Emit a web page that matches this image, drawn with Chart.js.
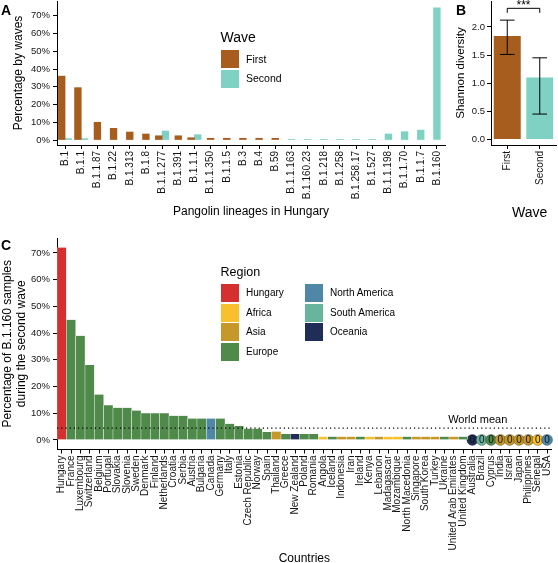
<!DOCTYPE html>
<html>
<head>
<meta charset="utf-8">
<script src="https://cdn.jsdelivr.net/npm/chart.js@4.4.1/dist/chart.umd.min.js"></script>
<style>
  body { margin: 0; background: #fff; }
  #fig { position: relative; width: 558px; height: 563px; overflow: hidden; font-family: 'Liberation Sans', Arial, Helvetica, sans-serif; color: #000; }
  canvas { position: absolute; }
  .lbl { position: absolute; white-space: nowrap; }
  .tag { position: absolute; font-weight: bold; font-size: 14px; line-height: 14px; }
  .sw { position: absolute; width: 18px; height: 18px; }
</style>
</head>
<body>
<div id="fig">
  <canvas id="chartA" width="450" height="225" style="left:0;top:0"></canvas>
  <canvas id="chartB" width="108" height="225" style="left:450px;top:0"></canvas>
  <canvas id="chartC" width="558" height="345" style="left:0;top:225px"></canvas>
  <div class="tag" style="left:1px;top:3px">A</div>
  <div class="tag" style="left:456px;top:3px">B</div>
  <div class="tag" style="left:1px;top:238px">C</div>
  <div class="lbl" style="left:512px;top:204px;font-size:14px;line-height:16px">Wave</div>
  <div id="legendA"></div>
  <div id="legendC"></div>
</div>
<script>
// panel A - share of each lineage within a wave (%)
const lineages = ['B.1', 'B.1.1', 'B.1.1.87', 'B.1.22', 'B.1.313', 'B.1.8', 'B.1.1.277', 'B.1.391',
  'B.1.1.1', 'B.1.1.350', 'B.1.1.5', 'B.3', 'B.4', 'B.59', 'B.1.1.163', 'B.1.160.23', 'B.1.218',
  'B.1.258', 'B.1.258.17', 'B.1.527', 'B.1.1.198', 'B.1.1.70', 'B.1.1.7', 'B.1.160']
const firstWave = [36, 29.5, 10, 6.6, 4.5, 3.4, 2.4, 2.4, 1.3, 1.0, 1.0, 1.0, 1.0, 1.0,
  null, null, null, null, null, null, null, null, null, null]
const secondWave = [0.8, 0.8, null, null, null, null, 5.1, null, 3.0, null, null, null, null, null,
  0.4, 0.4, 0.4, 0.4, 0.4, 0.4, 3.4, 4.7, 5.6, 74.5]
const pctTicks = [0, 10, 20, 30, 40, 50, 60, 70]

// panel B - Shannon diversity per wave
const waves = ['First', 'Second']
const shannon = [1.84, 1.10]
const shannonLow = [1.51, 0.45]
const shannonHigh = [2.12, 1.45]
const shannonTicks = [0, 0.5, 1, 1.5, 2]
const bracket = [2.33, 2.25] // significance bracket: top, ends

// panel C - B.1.160 share of second wave samples per country (%)
const countries = ['Hungary', 'France', 'Luxembourg', 'Switzerland', 'Belgium', 'Portugal', 'Slovakia',
  'Slovenia', 'Sweden', 'Denmark', 'Finland', 'Netherlands', 'Croatia', 'Serbia', 'Austria', 'Bulgaria',
  'Canada', 'Germany', 'Italy', 'Estonia', 'Czech Republic', 'Norway', 'Spain', 'Thailand', 'Greece',
  'New Zealand', 'Poland', 'Romania', 'Angola', 'Iceland', 'Indonesia', 'Iran', 'Ireland', 'Kenya',
  'Lebanon', 'Madagascar', 'Mozambique', 'North Macedonia', 'Singapore', 'South Korea', 'Turkey',
  'Ukraine', 'United Arab Emirates', 'United Kingdom', 'Australia', 'Brazil', 'Cyprus', 'India',
  'Israel', 'Japan', 'Philippines', 'Senegal', 'USA']
const regionOf = ['Hungary', 'Europe', 'Europe', 'Europe', 'Europe', 'Europe', 'Europe',
  'Europe', 'Europe', 'Europe', 'Europe', 'Europe', 'Europe', 'Europe', 'Europe', 'Europe',
  'North America', 'Europe', 'Europe', 'Europe', 'Europe', 'Europe', 'Europe', 'Asia', 'Europe',
  'Oceania', 'Europe', 'Europe', 'Africa', 'Europe', 'Asia', 'Asia', 'Europe', 'Africa',
  'Asia', 'Africa', 'Africa', 'Europe', 'Asia', 'Asia', 'Asia',
  'Europe', 'Asia', 'Europe', 'Oceania', 'South America', 'Europe', 'Asia',
  'Asia', 'Asia', 'Asia', 'Africa', 'North America']
const b1160Share = [72, 45, 39, 28, 17, 13, 12, 12, 11, 10, 10, 10, 9, 9, 8, 8,
  8, 8, 6, 5.2, 4.2, 4.2, 3, 3.1, 2.2, 2.2, 2.2, 2.2, 1.2, 1.2, 1.2, 1.2, 1.2, 1.2,
  1.2, 1.2, 1.2, 1.2, 1.2, 1.2, 1.2, 1.2, 1.2, 1.2, 0, 0, 0, 0, 0, 0, 0, 0, 0]
const worldMean = 4.4

const waveColors = ['#a65d1d', '#7fd1c3']
const regions = ['Hungary', 'Africa', 'Asia', 'Europe', 'North America', 'South America', 'Oceania']
const regionColors = {
  'Hungary': '#d3302f',
  'Africa': '#f9c02e',
  'Asia': '#c6982a',
  'Europe': '#4f8a4a',
  'North America': '#4f87a7',
  'South America': '#67b59d',
  'Oceania': '#1f2d57'
}

const font = "'Liberation Sans', Arial, Helvetica, sans-serif"
Chart.defaults.font.family = font
Chart.defaults.color = '#151515'
Chart.defaults.animation = false
Chart.defaults.responsive = false
Chart.defaults.devicePixelRatio = 1
Chart.defaults.plugins.legend.display = false
Chart.defaults.plugins.tooltip.enabled = false

function axisStyle () {
  return {
    border: { display: true, color: '#000', width: 1 },
    grid: { display: true, drawOnChartArea: false, drawTicks: true, tickLength: 4, color: '#000', offset: false }
  }
}

function xTicks (size) {
  return { font: { size: size }, minRotation: 90, maxRotation: 90, autoSkip: false, padding: 2 }
}

// fixed axis size, and no extra room for labels at the ends
function fixSize (key, val) {
  return s => {
    s[key] = val
    s.paddingTop = 0
    s.paddingBottom = 0
    s.paddingLeft = 0
    s.paddingRight = 0
  }
}

// A
new Chart(document.getElementById('chartA'), {
  type: 'bar',
  data: {
    labels: lineages,
    datasets: [
      { label: 'First', data: firstWave, backgroundColor: waveColors[0] },
      { label: 'Second', data: secondWave, backgroundColor: waveColors[1] }
    ]
  },
  options: {
    layout: { padding: { top: 1, right: 5, left: 0, bottom: 0 } },
    datasets: { bar: { barThickness: 6.7, skipNull: true } },
    scales: {
      x: Object.assign(axisStyle(), {
        ticks: xTicks(10),
        title: { display: true, text: 'Pangolin lineages in Hungary', color: '#000', font: { size: 12 }, padding: { top: 0, bottom: 5.8 } },
        afterFit: fixSize('height', 80)
      }),
      y: Object.assign(axisStyle(), {
        min: -2.8,
        max: 78.3,
        ticks: { font: { size: 9.5 }, padding: 3, callback: v => v + '%' },
        afterBuildTicks: s => { s.ticks = pctTicks.map(v => ({ value: v })) },
        title: { display: true, text: 'Percentage by waves', color: '#000', font: { size: 12 }, padding: { top: 11.3, bottom: 0 } },
        afterFit: fixSize('width', 57)
      })
    }
  }
})

// B - error bars and significance bracket
const errorBars = {
  id: 'errorBars',
  afterDatasetsDraw (chart) {
    const { ctx, scales: { x, y } } = chart
    ctx.save()
    ctx.strokeStyle = '#000'
    ctx.lineWidth = 1
    waves.forEach((w, i) => {
      const px = x.getPixelForValue(i)
      const lo = y.getPixelForValue(shannonLow[i])
      const hi = y.getPixelForValue(shannonHigh[i])
      ctx.beginPath()
      ctx.moveTo(px, lo); ctx.lineTo(px, hi)
      ctx.moveTo(px - 7.3, lo); ctx.lineTo(px + 7.3, lo)
      ctx.moveTo(px - 7.3, hi); ctx.lineTo(px + 7.3, hi)
      ctx.stroke()
    })
    const x0 = x.getPixelForValue(0)
    const x1 = x.getPixelForValue(1)
    const yTop = y.getPixelForValue(bracket[0])
    const yEnd = y.getPixelForValue(bracket[1])
    ctx.beginPath()
    ctx.moveTo(x0, yEnd); ctx.lineTo(x0, yTop); ctx.lineTo(x1, yTop); ctx.lineTo(x1, yEnd)
    ctx.stroke()
    ctx.fillStyle = '#000'
    ctx.font = '12px ' + font
    ctx.textAlign = 'center'
    ctx.textBaseline = 'alphabetic'
    ctx.fillText('***', (x0 + x1) / 2, yTop + 1)
    ctx.restore()
  }
}

new Chart(document.getElementById('chartB'), {
  type: 'bar',
  data: {
    labels: waves,
    datasets: [{ data: shannon, backgroundColor: waveColors, categoryPercentage: 1, barPercentage: 0.83 }]
  },
  options: {
    layout: { padding: { top: 1, right: 2, left: 0, bottom: 0 } },
    scales: {
      x: Object.assign(axisStyle(), {
        ticks: xTicks(10),
        afterFit: fixSize('height', 80)
      }),
      y: Object.assign(axisStyle(), {
        min: -0.1,
        max: 2.46,
        ticks: { font: { size: 9.5 }, padding: 2, callback: v => v.toFixed(1) },
        afterBuildTicks: s => { s.ticks = shannonTicks.map(v => ({ value: v })) },
        title: { display: true, text: 'Shannon diversity', color: '#000', font: { size: 11.5 }, padding: { top: 4.1, bottom: 0 } },
        afterFit: fixSize('width', 41)
      })
    }
  },
  plugins: [errorBars]
})

// C - world mean line and "0" labels on the empty countries
const worldMeanLine = {
  id: 'worldMeanLine',
  afterDatasetsDraw (chart) {
    const { ctx, chartArea: a, scales: { y } } = chart
    const py = y.getPixelForValue(worldMean)
    ctx.save()
    ctx.strokeStyle = '#000'
    ctx.lineWidth = 1.2
    ctx.setLineDash([1.2, 3])
    ctx.beginPath()
    ctx.moveTo(a.left, py); ctx.lineTo(a.right, py)
    ctx.stroke()
    ctx.setLineDash([])
    ctx.fillStyle = '#000'
    ctx.textAlign = 'center'
    ctx.textBaseline = 'middle'
    ctx.font = '11px ' + font
    ctx.fillText('World mean', a.right - 74, py - 8.5)
    ctx.font = '10px ' + font
    ctx.fillStyle = '#111'
    chart.getDatasetMeta(1).data.forEach((pt, i) => {
      if (b1160Share[i] !== 0) return
      ctx.fillText('0', pt.x, pt.y + 0.5)
    })
    ctx.restore()
  }
}

const countryColors = regionOf.map(r => regionColors[r])

new Chart(document.getElementById('chartC'), {
  type: 'bar',
  data: {
    labels: countries,
    datasets: [{
      data: b1160Share.map(v => v > 0 ? v : null),
      backgroundColor: countryColors,
      borderColor: '#fff',
      borderWidth: { left: 0.5, right: 0.5, top: 0, bottom: 0 },
      categoryPercentage: 1,
      barPercentage: 1
    }, {
      type: 'line',
      showLine: false,
      clip: false,
      data: b1160Share.map(v => v === 0 ? 0 : null),
      pointRadius: 5.5,
      pointBackgroundColor: countryColors,
      pointBorderColor: 'rgba(0,0,0,0.35)',
      pointBorderWidth: 0.8
    }]
  },
  options: {
    layout: { padding: { top: 13, right: 1, left: 0, bottom: 0 } },
    scales: {
      x: Object.assign(axisStyle(), {
        ticks: xTicks(10),
        title: { display: true, text: 'Countries', color: '#000', font: { size: 12 }, padding: { top: 0, bottom: 3.8 } },
        afterFit: fixSize('height', 120.5)
      }),
      y: Object.assign(axisStyle(), {
        min: -3.6,
        max: 75.6,
        ticks: { font: { size: 9.5 }, padding: 3, callback: v => v + '%' },
        afterBuildTicks: s => { s.ticks = pctTicks.map(v => ({ value: v })) },
        title: {
          display: true,
          text: ['Percentage of B.1.160 samples', 'during the second wave'],
          color: '#000',
          font: { size: 12, lineHeight: 1.15 },
          padding: { top: 0.6, bottom: 0 }
        },
        afterFit: fixSize('width', 57)
      })
    }
  },
  plugins: [worldMeanLine]
})

// legends (html)
function addLabel (parent, text, left, centerY, size) {
  const d = document.createElement('div')
  d.className = 'lbl'
  d.textContent = text
  d.style.left = left + 'px'
  d.style.top = (centerY - size * 0.6) + 'px'
  d.style.fontSize = size + 'px'
  d.style.lineHeight = (size * 1.2) + 'px'
  parent.appendChild(d)
}
function addSwatch (parent, color, left, top) {
  const d = document.createElement('div')
  d.className = 'sw'
  d.style.left = left + 'px'
  d.style.top = top + 'px'
  d.style.background = color
  parent.appendChild(d)
}

const legA = document.getElementById('legendA')
addLabel(legA, 'Wave', 220.5, 37.7, 14)
waves.forEach((w, i) => {
  addSwatch(legA, waveColors[i], 221, 50 + i * 19.5)
  addLabel(legA, w, 246, 59 + i * 19.5, 10.5)
})

const legC = document.getElementById('legendC')
addLabel(legC, 'Region', 220.5, 272.3, 12.5)
regions.forEach((r, i) => {
  const col = i < 4 ? 0 : 1
  const row = i < 4 ? i : i - 4
  addSwatch(legC, regionColors[r], 221 + col * 84, 284 + row * 19.5)
  addLabel(legC, r, 246 + col * 84, 293 + row * 19.5, 10)
})
</script>
</body>
</html>
